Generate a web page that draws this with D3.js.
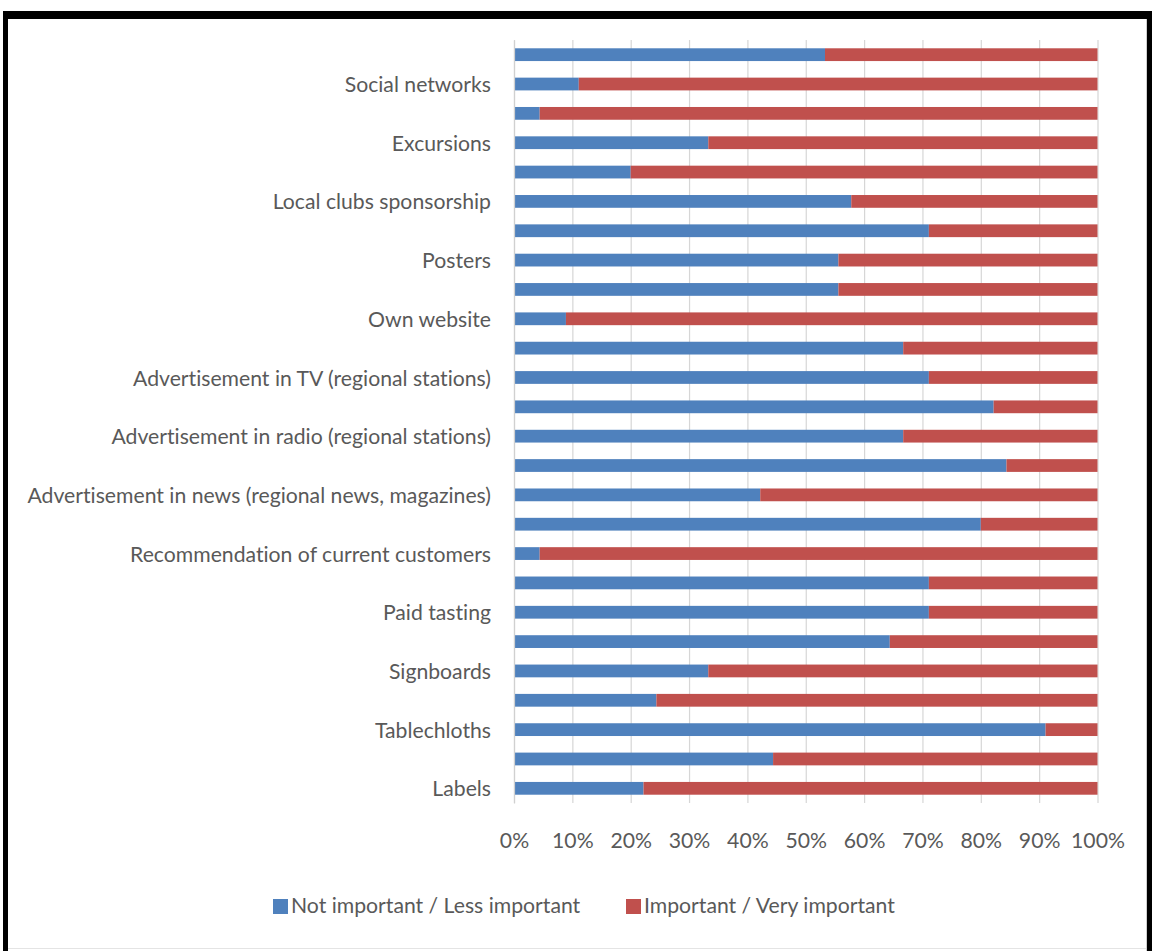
<!DOCTYPE html>
<html>
<head>
<meta charset="utf-8">
<script src="https://cdn.jsdelivr.net/npm/d3@7"></script>
<style>
  html, body { margin: 0; padding: 0; background: #fff; }
  svg { display: block; }
  text { font-family: Lato, "Open Sans", sans-serif; fill: #595959; font-variant-ligatures: none; }
</style>
</head>
<body>
<svg id="chart" width="1152" height="951"></svg>
<script>
// Rows top to bottom; only every other row carries a printed label.
const categories = [
  "", "Social networks", "", "Excursions", "", "Local clubs sponsorship",
  "", "Posters", "", "Own website", "", "Advertisement in TV (regional stations)",
  "", "Advertisement in radio (regional stations)", "", "Advertisement in news (regional news, magazines)",
  "", "Recommendation of current customers", "", "Paid tasting", "", "Signboards",
  "", "Tablechloths", "", "Labels"
];

// Share of respondents (%) per row
const notImportant = [
  53.3, 11.1, 4.4, 33.3, 20.0, 57.8,
  71.1, 55.6, 55.6, 8.9, 66.7, 71.1,
  82.2, 66.7, 84.4, 42.2, 80.0, 4.4,
  71.1, 71.1, 64.4, 33.3, 24.4, 91.1,
  44.4, 22.2
];
const important = notImportant.map(v => +(100 - v).toFixed(1));

const seriesNames = ["Not important / Less important", "Important / Very important"];
const seriesColors = ["#4F81BD", "#C0504D"];
const xTicks = [0, 10, 20, 30, 40, 50, 60, 70, 80, 90, 100];

const FONT_SIZE = 21.2;
const svg = d3.select("#chart");

// Frame
svg.append("rect").attr("x", 3).attr("y", 11).attr("width", 1149).attr("height", 8).attr("fill", "#000");
svg.append("rect").attr("x", 3).attr("y", 11).attr("width", 5).attr("height", 940).attr("fill", "#000");
svg.append("rect").attr("x", 1147).attr("y", 11).attr("width", 5).attr("height", 940).attr("fill", "#000");
svg.append("line").attr("x1", 8).attr("x2", 1147).attr("y1", 948.5).attr("y2", 948.5).attr("stroke", "#e4e4e4");
svg.append("line").attr("x1", 1146.5).attr("x2", 1146.5).attr("y1", 19).attr("y2", 951).attr("stroke", "#cfcfcf");

const plot = { left: 514, right: 1097.5, top: 40, bottom: 803 };

const x = d3.scaleLinear().domain([0, 100]).range([plot.left, plot.right]);
const y = d3.scaleBand()
  .domain(d3.range(categories.length))
  .range([plot.top, plot.bottom])
  .paddingInner(0.565)
  .paddingOuter(0.2825);

// Vertical gridlines
svg.append("g")
  .selectAll("line")
  .data(xTicks)
  .join("line")
  .attr("x1", d => x(d) + 0.5).attr("x2", d => x(d) + 0.5)
  .attr("y1", plot.top).attr("y2", plot.bottom)
  .attr("stroke", "#d6d6d6").attr("stroke-width", 1.2);

// Stacked bars
const rows = categories.map((c, i) => ({ i, a: notImportant[i], b: important[i] }));
const stack = d3.stack().keys(["a", "b"])(rows);

svg.append("g")
  .selectAll("g")
  .data(stack)
  .join("g")
  .attr("fill", (d, k) => seriesColors[k])
  .selectAll("rect")
  .data(d => d)
  .join("rect")
  .attr("x", d => x(d[0]))
  .attr("width", d => x(d[1]) - x(d[0]))
  .attr("y", d => y(d.data.i))
  .attr("height", y.bandwidth());

// Category axis
const yAxis = svg.append("g")
  .attr("transform", `translate(${plot.left},0)`)
  .call(d3.axisLeft(y).tickSize(0).tickPadding(23).tickFormat(i => categories[i]));
yAxis.select(".domain").attr("stroke", "#d0d0d0").attr("stroke-width", 1.2);
yAxis.selectAll("text")
  .attr("dy", "0.38em")
  .style("font-family", "Lato, 'Open Sans', sans-serif")
  .attr("font-size", FONT_SIZE)
  .attr("fill", "#595959");

// Percent axis
const xAxis = svg.append("g")
  .attr("transform", `translate(0,${plot.bottom})`)
  .call(d3.axisBottom(x).tickValues(xTicks).tickSize(0).tickPadding(0).tickFormat(d => d + "%"));
xAxis.select(".domain").remove();
xAxis.selectAll("text")
  .attr("y", 38).attr("dy", "0.35em")
  .style("font-family", "Lato, 'Open Sans', sans-serif")
  .attr("font-size", FONT_SIZE)
  .attr("fill", "#595959");

// Legend
const legendItems = [
  { name: seriesNames[0], color: seriesColors[0], x: 273 },
  { name: seriesNames[1], color: seriesColors[1], x: 626 }
];
const legend = svg.append("g");
const li = legend.selectAll("g").data(legendItems).join("g")
  .attr("transform", d => `translate(${d.x},906)`);
li.append("rect").attr("x", 0).attr("y", -7).attr("width", 15).attr("height", 15).attr("fill", d => d.color);
li.append("text").attr("x", 18).attr("dy", "0.35em")
  .attr("font-size", FONT_SIZE)
  .text(d => d.name);
</script>
</body>
</html>
